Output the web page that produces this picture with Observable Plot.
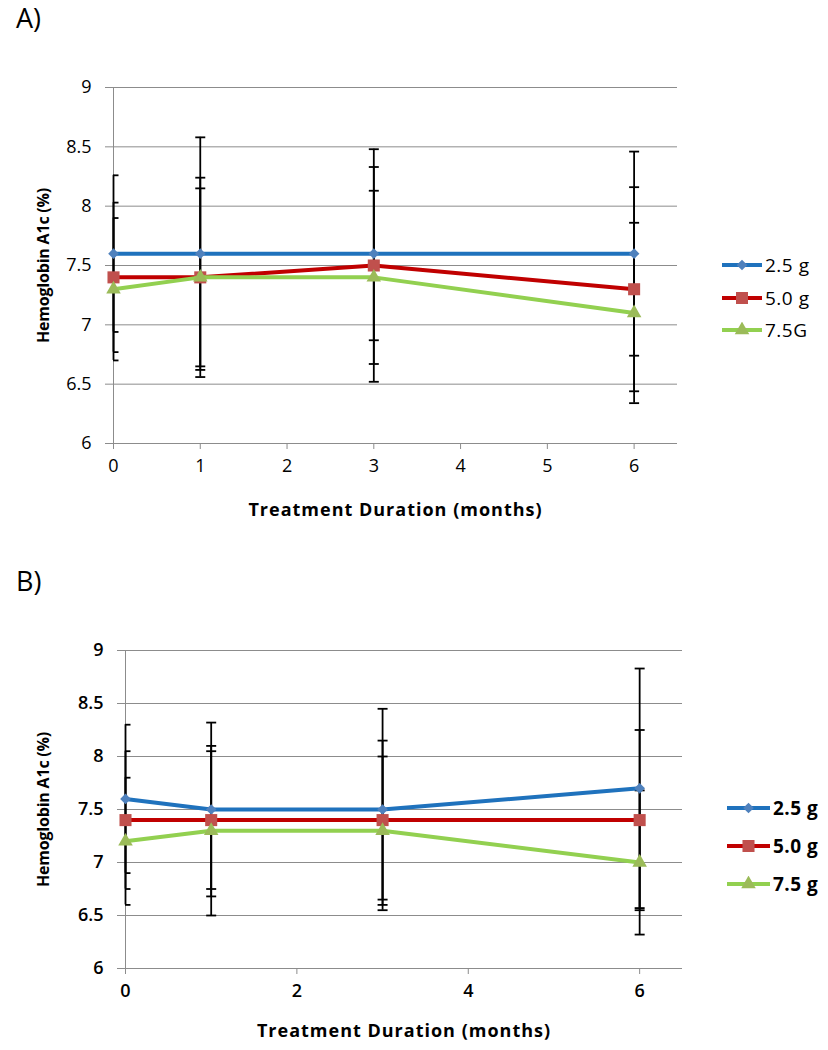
<!DOCTYPE html>
<html><head><meta charset="utf-8">
<script src="https://cdn.jsdelivr.net/npm/d3@7"></script>
<script src="https://cdn.jsdelivr.net/npm/@observablehq/plot@0.6"></script>
<style>
body{margin:0;background:#fff;font-family:"Open Sans",sans-serif;color:#000;}
#page{position:relative;width:828px;height:1050px;overflow:hidden;background:#fff;}
.panel{position:absolute;left:0;}
.panel svg{font-family:"Open Sans",sans-serif;overflow:visible;}
.tag{position:absolute;left:16px;font-size:27px;line-height:27px;}
.legend-row{position:absolute;display:flex;align-items:center;white-space:nowrap;font-size:19px;letter-spacing:0.5px;line-height:20px;}
.legend-row svg{margin-right:3px;}
g[aria-label="x-axis label"] text{font-weight:bold;font-size:18px;letter-spacing:1px;}
g[aria-label="y-axis label"] text{font-weight:bold;font-size:16px;letter-spacing:-0.2px;}
#panelB g[aria-label="y-axis tick label"] text,#panelB g[aria-label="x-axis tick label"] text{font-weight:600;}
#legendB .legend-row{font-weight:bold;}
</style></head><body><div id="page"></div>
<script>
// ---- data ----
const months = [0, 1, 3, 6];
const seriesA = ["2.5 g", "5.0 g", "7.5G"];
const meanA_25 = [7.6, 7.6, 7.6, 7.6];
const meanA_50 = [7.4, 7.4, 7.5, 7.3];
const meanA_75 = [7.3, 7.4, 7.4, 7.1];
const sdA_25 = [0.66, 0.98, 0.73, 0.86];
const sdA_50 = [0.63, 0.84, 0.98, 0.86];
const sdA_75 = [0.60, 0.75, 0.73, 0.76];
const seriesB = ["2.5 g", "5.0 g", "7.5 g"];
const meanB_25 = [7.6, 7.5, 7.5, 7.7];
const meanB_50 = [7.4, 7.4, 7.4, 7.4];
const meanB_75 = [7.2, 7.3, 7.3, 7.0];
const sdB_25 = [0.70, 0.82, 0.95, 1.13];
const sdB_50 = [0.65, 0.65, 0.75, 0.85];
const sdB_75 = [0.60, 0.80, 0.70, 0.68];
const yTicks = [6, 6.5, 7, 7.5, 8, 8.5, 9];
const xTicksA = [0, 1, 2, 3, 4, 5, 6];
const xTicksB = [0, 2, 4, 6];
const yTitle = "Hemoglobin A1c (%)";
const xTitle = "Treatment Duration (months)";

// ---- styles ----
const lineColors = ["#1f72bd", "#c00000", "#92d050"];
const markerColors = ["#4f81bd", "#c0504d", "#9bbb59"];
const symbols = ["diamond2", "square", "triangle"];
const markerR = [4.8, 6.8, 5.4];
const gridColor = "#8c8c8c";
const capSymbol = {draw(ctx) { ctx.moveTo(-5, 0); ctx.lineTo(5, 0); }};

const page = document.getElementById("page");

function makeChart(cfg) {
  const data = [];
  cfg.series.forEach((s, i) => months.forEach((m, j) => {
    const mean = cfg.means[i][j], sd = cfg.sds[i][j];
    data.push({series: s, si: i, month: m, mean, lo: mean - sd, hi: mean + sd});
  }));
  const caps = data.flatMap(d => [{month: d.month, v: d.lo}, {month: d.month, v: d.hi}]);
  const marks = [
    Plot.gridY(yTicks, {stroke: gridColor, strokeOpacity: 1}),
    Plot.frame({anchor: "left", stroke: gridColor}),
    Plot.axisY({ticks: yTicks, tickFormat: d => String(d), tickSize: 8, tickPadding: 14,
      stroke: gridColor, fill: "#000", fontSize: 18, label: yTitle, labelAnchor: "center",
      labelOffset: cfg.yLabelOffset, labelArrow: "none"}),
    Plot.axisX({ticks: cfg.xTicks, tickFormat: d => String(d), tickSize: 6, tickPadding: 10,
      stroke: gridColor, fill: "#000", fontSize: 18, label: xTitle, labelAnchor: "center",
      labelOffset: cfg.xLabelOffset, labelArrow: "none"}),
    Plot.ruleX(data, {x: "month", y1: "lo", y2: "hi", stroke: "#000", strokeWidth: 1.8}),
    Plot.dot(caps, {x: "month", y: "v", symbol: capSymbol, r: 5, fill: "none", stroke: "#000", strokeWidth: 1.8, clip: true})
  ];
  cfg.series.forEach((s, i) => {
    const sd = data.filter(d => d.si === i);
    marks.push(Plot.line(sd, {x: "month", y: "mean", stroke: lineColors[i], strokeWidth: 4}));
    marks.push(Plot.dot(sd, {x: "month", y: "mean", symbol: symbols[i], r: markerR[i], fill: markerColors[i], stroke: "none"}));
  });
  const svg = Plot.plot({
    width: 828, height: cfg.height,
    marginLeft: cfg.ml, marginRight: cfg.mr, marginTop: cfg.mt, marginBottom: cfg.mb,
    x: {domain: [0, 6.5]},
    y: {domain: [6, 9]},
    style: {fontFamily: "'Open Sans', sans-serif", background: "#fff", color: "#000"},
    marks
  });
  const div = document.createElement("div");
  div.className = "panel";
  div.id = cfg.id;
  div.style.top = cfg.top + "px";
  div.appendChild(svg);
  page.appendChild(div);

  const tag = document.createElement("div");
  tag.className = "tag";
  tag.textContent = cfg.tag;
  tag.style.top = cfg.tagTop + "px";
  page.appendChild(tag);

  const leg = document.createElement("div");
  leg.id = cfg.id === "panelA" ? "legendA" : "legendB";
  cfg.series.forEach((s, i) => {
    const row = document.createElement("div");
    row.className = "legend-row";
    row.style.left = cfg.legLeft + "px";
    row.style.top = (cfg.legTops[i] - 10) + "px";
    const ns = "http://www.w3.org/2000/svg";
    const sv = document.createElementNS(ns, "svg");
    sv.setAttribute("width", cfg.legW); sv.setAttribute("height", 16);
    const ln = document.createElementNS(ns, "line");
    ln.setAttribute("x1", 0); ln.setAttribute("x2", cfg.legW); ln.setAttribute("y1", 8); ln.setAttribute("y2", 8);
    ln.setAttribute("stroke", lineColors[i]); ln.setAttribute("stroke-width", 4);
    sv.appendChild(ln);
    const p = document.createElementNS(ns, "path");
    const sym = [d3.symbolDiamond2, d3.symbolSquare, d3.symbolTriangle][i];
    p.setAttribute("d", d3.symbol(sym, Math.PI * markerR[i] * markerR[i])());
    p.setAttribute("transform", `translate(${cfg.legW / 2},8)`);
    p.setAttribute("fill", markerColors[i]);
    sv.appendChild(p);
    row.appendChild(sv);
    const t = document.createElement("span");
    t.textContent = s;
    row.appendChild(t);
    leg.appendChild(row);
  });
  page.appendChild(leg);
}

makeChart({id: "panelA", top: 0, height: 530, ml: 113, mr: 151, mt: 87, mb: 87,
  series: seriesA, means: [meanA_25, meanA_50, meanA_75], sds: [sdA_25, sdA_50, sdA_75],
  xTicks: xTicksA, yLabelOffset: 76, xLabelOffset: 72, tag: "A)", tagTop: 4,
  legLeft: 722, legW: 40, legTops: [265, 298, 330]});

makeChart({id: "panelB", top: 530, height: 520, ml: 125, mr: 146, mt: 120, mb: 82,
  series: seriesB, means: [meanB_25, meanB_50, meanB_75], sds: [sdB_25, sdB_50, sdB_75],
  xTicks: xTicksB, yLabelOffset: 88, xLabelOffset: 68, tag: "B)", tagTop: 567,
  legLeft: 727, legW: 43, legTops: [808, 846, 884]});
</script></body></html>
